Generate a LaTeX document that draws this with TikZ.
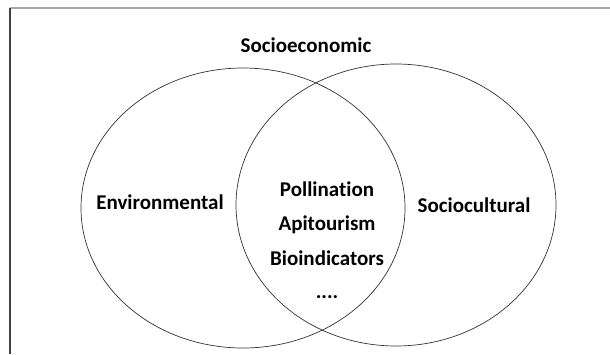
\documentclass[tikz,border=0pt]{standalone}
\usepackage{fontspec}
\setmainfont{Carlito}[Ligatures={NoCommon}]
\begin{document}
\begin{tikzpicture}[x=1pt,y=-1pt,
  lbl/.style={font=\bfseries\fontsize{21}{24}\selectfont, inner sep=0pt, anchor=center},
  venn/.style={draw=black!80, line width=0.7pt}]
\useasboundingbox (0,0) rectangle (610,354);
\fill[white] (0,0) rectangle (610,354);
% frame
\coordinate (fc) at (10,8);
\coordinate (fr) at (610,8);
\coordinate (fb) at (10,354);
\draw[gray!70, line width=1.5pt] (fc) -- (fr);
\draw[black!75, line width=1.5pt] (fc) -- (fb);
% ellipses
\draw[venn] (243,208) ellipse [x radius=162, y radius=140];
\draw[venn] (396,205) ellipse [x radius=160, y radius=141];
% labels
\node[lbl] (socioeco) at (306,45) {Socioeconomic};
\node[lbl] (env) at (160,202) {Environmental};
\node[lbl] (soccul) at (474,205) {Sociocultural};
\node[lbl] (poll) at (327,189) {Pollination};
\node[lbl] (api) at (327,225) {Apitourism};
\node[lbl] (bio) at (327,258) {Bioindicators};
\node[lbl] (dots) at (327,297) {....};
\end{tikzpicture}
\end{document}
